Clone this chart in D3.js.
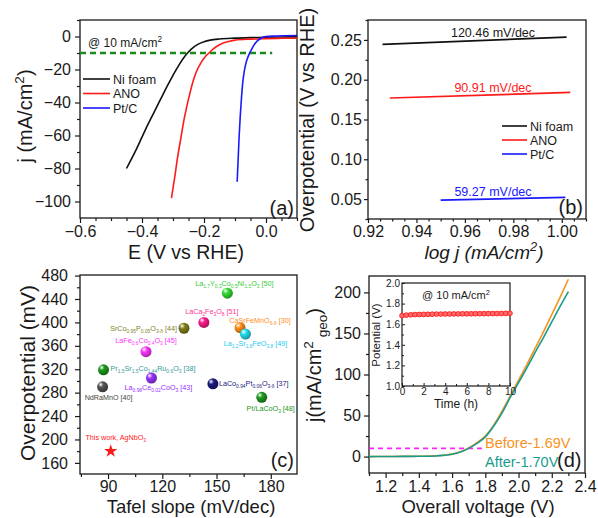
<!DOCTYPE html>
<html><head><meta charset="utf-8">
<script src="https://cdn.jsdelivr.net/npm/d3@7"></script>
<style>body{margin:0;background:#fff}svg{display:block}</style>
</head><body>
<svg id="c" width="598" height="518"></svg>
<script>
// ---------- DATA ----------
// (a) polarization curves
const niE  = [-0.45,-0.42,-0.40,-0.38,-0.36,-0.34,-0.32,-0.30,-0.28,-0.26,-0.24,-0.22,-0.20,-0.18,-0.15,-0.10,-0.05,0.00,0.05,0.10];
const niJ  = [-80,-69,-61,-53,-45.5,-38,-30.5,-23.5,-17,-11.5,-7.5,-4.8,-3.2,-2.2,-1.5,-1.0,-0.7,-0.5,-0.3,-0.2];
const anoE = [-0.305,-0.295,-0.285,-0.275,-0.265,-0.255,-0.245,-0.235,-0.225,-0.21,-0.195,-0.184,-0.17,-0.15,-0.12,-0.10,-0.05,0,0.05,0.10];
const anoJ = [-98,-86,-73,-62,-51,-42,-34,-27,-21.5,-16,-12,-10,-7.5,-5,-3,-2.2,-1.6,-1.3,-1.1,-1.0];
const ptE  = [-0.093,-0.09,-0.087,-0.083,-0.079,-0.075,-0.07,-0.063,-0.055,-0.047,-0.04,-0.03,-0.02,-0.01,0,0.03,0.06,0.1];
const ptJ  = [-88,-75,-62,-48,-37,-28,-21,-15,-11,-8,-5.5,-3,-1.5,-0.5,0,0.3,0.5,0.6];
const seriesNames = ["Ni foam","ANO","Pt/C"];
const refJ = -10;
const refELimit = [-0.6, 0.02];
// (b) Tafel lines
const tafelLogJ = [[0.926,1.002],[0.929,1.0035],[0.950,1.0015]];
const tafelEta  = [[0.2445,0.2534],[0.177,0.184],[0.0488,0.0521]];
const tafelText = ["120.46 mV/dec","90.91 mV/dec","59.27 mV/dec"];
// (c) comparison scatter
const catNames = [
 "La_{1.7}Y_{0.3}Co_{0.5}Ni_{1.5}O_{3} [50]",
 "LaCa_{2}Fe_{3}O_{8} [51]",
 "SrCo_{0.95}P_{0.05}O_{3-δ} [44]",
 "CaSrFeMnO_{6-δ} [30]",
 "La_{1.2}Sr_{1.8}FeO_{3.8} [49]",
 "LaFe_{0.6}Co_{0.4}O_{3} [45]",
 "Pr_{1.5}Sr_{1.5}Co_{1.44}Ru_{0.6}O_{3} [38]",
 "NdRaMnO [40]",
 "La_{0.98}Ce_{0.02}CoO_{3} [43]",
 "LaCo_{0.94}Pt_{0.06}O_{3-δ} [37]",
 "Pt/LaCoO_{3} [48]"
];
const catTafel = [156,143,132,163,166,111,87.5,87,114,148,175];
const catEta   = [450,400,390,391,380,350,319,290,305,295,272];
const thisWorkName = "This work, AgNbO_{3}";
const thisWorkTafel = 91.5, thisWorkEta = 180;
// (d) overall water splitting
const dV      = [1.1,1.2,1.3,1.4,1.5,1.55,1.6,1.65,1.7,1.75,1.8,1.85,1.9,1.95,2.0,2.05,2.1,2.15,2.2,2.25,2.3];
const beforeJ = [0,0.1,0.2,0.4,0.9,1.6,3,5.8,10.5,17,25,38,55,74,93,112,132,152,173,194,216];
const afterJ  = [0,0.1,0.2,0.4,0.8,1.5,2.8,5.5,10,16,24,37,53,72,90,108,127,145,164,183,201];
const dLabels = ["Before-1.69V","After-1.70V"];
const dRefJ = 10, dRefVLimit = [1.1, 1.78];
// inset stability
const stabT = [0,0.4,0.8,1.2,1.6,2.0,2.4,2.8,3.2,3.6,4.0,4.4,4.8,5.2,5.6,6.0,6.4,6.8,7.2,7.6,8.0,8.4,8.8,9.2,9.6,10.0];
const stabV = [1.683,1.688,1.691,1.693,1.694,1.695,1.696,1.697,1.698,1.698,1.699,1.699,1.700,1.700,1.701,1.701,1.701,1.702,1.702,1.702,1.703,1.703,1.703,1.704,1.705,1.706];

// ---------- STYLE ----------
const FONT = '"Liberation Sans", Arial, Helvetica, sans-serif';
const ink = '#1a1a1a';
const aColors = ['#111111','#ff1a1a','#1a1aff'];
const catColors = ['#33dd33','#ff1a8c','#7f7f1a','#ff8c1a','#22ddee','#ff33ff','#1a9a1a','#555555','#9933ff','#1a1a80','#229922'];
const catLabelColors = ['#33cc33','#ff3399','#7f7f2a','#ff8c1a','#22ccee','#ff33ff','#339999','#444444','#9933ff','#1a1a80','#229922'];
// label offsets relative to marker (px): dx, dy, anchor
const catLabelPos = [[7,-7,'middle'],[8,-8,'middle'],[-7,3,'end'],[20,-5,'middle'],[10,12,'middle'],[0,-9,'middle'],[7,1,'start'],[6,13,'middle'],[7,12,'middle'],[6,2,'start'],[9,14,'middle']];

const svg = d3.select('#c').attr('font-family', FONT);

function rich(sel, str, fs){
  const re = /([_^])\{([^}]*)\}|([^_^]+)/g;
  let cur = 0, m;
  while((m = re.exec(str))){
    let target = 0, size = fs, txt;
    if(m[3] !== undefined){ txt = m[3]; }
    else { txt = m[2]; size = fs*0.68; target = m[1] === '_' ? fs*0.28 : -fs*0.4; }
    sel.append('tspan').attr('font-size', size).attr('dy', target-cur).text(txt);
    cur = target;
  }
  return sel;
}

function drawAxes(g, x, y, o){
  const [x0,x1] = x.range(), [y0,y1] = y.range();
  const tk = o.tk ?? 5, tkm = o.tkm ?? 3;
  g.append('g').attr('transform',`translate(0,${y0})`)
    .call(d3.axisBottom(x).tickValues(o.xMaj).tickFormat(o.xFmt).tickSize(tk).tickSizeOuter(0).tickPadding(o.xPad ?? 3));
  g.append('g').attr('transform',`translate(0,${y0})`)
    .call(d3.axisBottom(x).tickValues(o.xMin).tickFormat(()=>'').tickSize(tkm).tickSizeOuter(0));
  g.append('g').attr('transform',`translate(${x0},0)`)
    .call(d3.axisLeft(y).tickValues(o.yMaj).tickFormat(o.yFmt).tickSize(tk).tickSizeOuter(0).tickPadding(o.yPad ?? 4));
  g.append('g').attr('transform',`translate(${x0},0)`)
    .call(d3.axisLeft(y).tickValues(o.yMin).tickFormat(()=>'').tickSize(tkm).tickSizeOuter(0));
  g.selectAll('.domain').remove();
  g.selectAll('.tick line').attr('stroke', ink).attr('stroke-width', o.tw ?? 1.2);
  g.selectAll('g').attr('font-family', FONT);
  g.selectAll('.tick text').attr('font-size', o.fs ?? 16).attr('fill', ink);
  g.append('rect').attr('x',x0).attr('y',y1).attr('width',x1-x0).attr('height',y0-y1)
    .attr('fill','none').attr('stroke',ink).attr('stroke-width', o.fw ?? 1.3);
}

// ---------- PANEL (a) ----------
{
  const g = svg.append('g');
  const x = d3.scaleLinear([-0.6,0.1],[80,297]);
  const y = d3.scaleLinear([-110,10],[218,20]);
  drawAxes(g, x, y, {
    xMaj:[-0.6,-0.4,-0.2,0.0], xMin:[-0.55,-0.5,-0.45,-0.35,-0.3,-0.25,-0.15,-0.1,-0.05,0.05,0.1], xFmt:d3.format('.1f'),
    yMaj:[-100,-80,-60,-40,-20,0], yMin:[-90,-70,-50,-30,-10,10], yFmt:d3.format('d'), yPad:4
  });
  g.append('line').attr('x1',x(refELimit[0])).attr('x2',x(refELimit[1])).attr('y1',y(refJ)).attr('y2',y(refJ))
    .attr('stroke','#1a8a1a').attr('stroke-width',2.5).attr('stroke-dasharray','6,4');
  const line = d3.line().x(d=>x(d[0])).y(d=>y(d[1])).curve(d3.curveMonotoneX);
  [[niE,niJ],[anoE,anoJ],[ptE,ptJ]].forEach((s,i)=>{
    g.append('path').attr('d', line(d3.zip(s[0],s[1]))).attr('fill','none').attr('stroke',aColors[i]).attr('stroke-width',1.6);
  });
  seriesNames.forEach((n,i)=>{
    const yy = 79 + i*14.5;
    g.append('line').attr('x1',83).attr('x2',110).attr('y1',yy).attr('y2',yy).attr('stroke',aColors[i]).attr('stroke-width',1.6);
    g.append('text').attr('x',113).attr('y',yy+4.5).attr('font-size',12.5).attr('fill',ink).text(n);
  });
  rich(g.append('text').attr('x',88).attr('y',47).attr('font-size',12).attr('fill',ink), '@ 10 mA/cm^{2}', 12);
  g.append('text').attr('x',294).attr('y',215).attr('text-anchor','end').attr('font-size',20).attr('fill',ink).text('(a)');
  g.append('text').attr('x',186).attr('y',259).attr('text-anchor','middle').attr('font-size',19.5).attr('fill',ink).text('E (V vs RHE)');
  rich(g.append('text').attr('transform','translate(32,116) rotate(-90)').attr('text-anchor','middle').attr('font-size',20).attr('fill',ink), 'j (mA/cm^{2})', 20);
}

// ---------- PANEL (b) ----------
{
  const g = svg.append('g');
  const x = d3.scaleLinear([0.92,1.01],[368,586]);
  const y = d3.scaleLinear([0.025,0.275],[219,20]);
  drawAxes(g, x, y, {
    xMaj:[0.92,0.94,0.96,0.98,1.00], xMin:[0.925,0.93,0.935,0.945,0.95,0.955,0.965,0.97,0.975,0.985,0.99,0.995,1.005,1.01], xFmt:d3.format('.2f'),
    yMaj:[0.05,0.10,0.15,0.20,0.25], yMin:[0.025,0.075,0.125,0.175,0.225,0.275], yFmt:d3.format('.2f'), tk:4, tkm:2.5, yPad:2
  });
  const line = d3.line().x(d=>x(d[0])).y(d=>y(d[1]));
  tafelLogJ.forEach((xs,i)=>{
    g.append('path').attr('d', line(d3.zip(xs, tafelEta[i]))).attr('fill','none').attr('stroke',aColors[i]).attr('stroke-width',1.7);
  });
  const labY = [37, 92, 196];
  tafelText.forEach((t,i)=>{
    g.append('text').attr('x',493).attr('y',labY[i]).attr('text-anchor','middle').attr('font-size',12.5).attr('fill',aColors[i]==='#111111'?ink:aColors[i]).text(t);
  });
  seriesNames.forEach((n,i)=>{
    const yy = 126 + i*14;
    g.append('line').attr('x1',502).attr('x2',527).attr('y1',yy).attr('y2',yy).attr('stroke',aColors[i]).attr('stroke-width',1.6);
    g.append('text').attr('x',530).attr('y',yy+4.5).attr('font-size',12.5).attr('fill',ink).text(n);
  });
  g.append('text').attr('x',583).attr('y',214).attr('text-anchor','end').attr('font-size',20).attr('fill',ink).text('(b)');
  rich(g.append('text').attr('x',484).attr('y',259).attr('text-anchor','middle').attr('font-size',19).attr('font-style','italic').attr('fill',ink), 'log j (mA/cm^{2})', 19);
  g.append('text').attr('transform','translate(314,120) rotate(-90)').attr('text-anchor','middle').attr('font-size',20).attr('fill',ink).text('Overpotential (V vs RHE)');
}

// ---------- PANEL (c) ----------
{
  const g = svg.append('g');
  const x = d3.scaleLinear([74.5,194.5],[80,297]);
  const y = d3.scaleLinear([141,481],[474,275]);
  drawAxes(g, x, y, {
    xMaj:[90,120,150,180], xMin:[75,105,135,165], xFmt:d3.format('d'),
    yMaj:[160,200,240,280,320,360,400,440,480], yMin:[180,220,260,300,340,380,420,460], yFmt:d3.format('d'), xPad:2, yPad:7
  });
  const defs = svg.append('defs');
  catColors.forEach((c,i)=>{
    const gr = defs.append('radialGradient').attr('id','sph'+i).attr('cx','38%').attr('cy','35%').attr('r','70%').attr('fx','32%').attr('fy','28%');
    gr.append('stop').attr('offset','0%').attr('stop-color','#ffffff');
    gr.append('stop').attr('offset','35%').attr('stop-color',c);
    gr.append('stop').attr('offset','100%').attr('stop-color',d3.color(c).darker(1.3));
  });
  catNames.forEach((n,i)=>{
    const px = x(catTafel[i]), py = y(catEta[i]);
    g.append('circle').attr('cx',px).attr('cy',py).attr('r',5.5).attr('fill',`url(#sph${i})`);
    const p = catLabelPos[i];
    rich(g.append('text').attr('x',px+p[0]).attr('y',py+p[1]).attr('text-anchor',p[2]).attr('font-size',7.2).attr('fill',catLabelColors[i]), n, 7.2);
  });
  g.append('path').attr('d', d3.symbol(d3.symbolStar, 55)()).attr('transform',`translate(${x(thisWorkTafel)},${y(thisWorkEta)})`).attr('fill','#ff1a1a');
  rich(g.append('text').attr('x',x(thisWorkTafel)+5).attr('y',y(thisWorkEta)-11).attr('text-anchor','middle').attr('font-size',7.2).attr('fill','#ff1a1a'), thisWorkName, 7.2);
  g.append('text').attr('x',294).attr('y',467).attr('text-anchor','end').attr('font-size',20).attr('fill',ink).text('(c)');
  g.append('text').attr('x',191).attr('y',513).attr('text-anchor','middle').attr('font-size',18.5).attr('fill',ink).text('Tafel slope (mV/dec)');
  g.append('text').attr('transform','translate(35,373) rotate(-90)').attr('text-anchor','middle').attr('font-size',21).attr('fill',ink).text('Overpotential (mV)');
}

// ---------- PANEL (d) ----------
{
  const g = svg.append('g');
  const x = d3.scaleLinear([1.1,2.4],[369,585]);
  const y = d3.scaleLinear([-20,220],[473,276]);
  drawAxes(g, x, y, {
    xMaj:[1.2,1.4,1.6,1.8,2.0,2.2,2.4], xMin:[1.1,1.3,1.5,1.7,1.9,2.1,2.3], xFmt:d3.format('.1f'),
    yMaj:[0,50,100,150,200], yMin:[25,75,125,175], yFmt:d3.format('d'), xPad:3, yPad:3, tk:5
  });
  g.append('line').attr('x1',x(dRefVLimit[0])).attr('x2',x(dRefVLimit[1])).attr('y1',y(dRefJ)).attr('y2',y(dRefJ))
    .attr('stroke','#ff22ff').attr('stroke-width',1.6).attr('stroke-dasharray','5,4');
  const line = d3.line().x(d=>x(d[0])).y(d=>y(d[1])).curve(d3.curveMonotoneX);
  const dCols = ['#f7931e','#179c8c'];
  g.append('path').attr('d', line(d3.zip(dV,beforeJ))).attr('fill','none').attr('stroke',dCols[0]).attr('stroke-width',1.6);
  g.append('path').attr('d', line(d3.zip(dV,afterJ))).attr('fill','none').attr('stroke',dCols[1]).attr('stroke-width',1.6);
  g.append('text').attr('x',485).attr('y',448).attr('font-size',14.5).attr('fill',dCols[0]).text(dLabels[0]);
  g.append('text').attr('x',485).attr('y',467).attr('font-size',14.5).attr('fill',dCols[1]).text(dLabels[1]);
  g.append('text').attr('x',557).attr('y',467).attr('font-size',20).attr('fill',ink).text('(d)');
  g.append('text').attr('x',478).attr('y',513).attr('text-anchor','middle').attr('font-size',18.5).attr('fill',ink).text('Overall voltage (V)');
  rich(g.append('text').attr('transform','translate(321,365) rotate(-90)').attr('text-anchor','middle').attr('font-size',20).attr('fill',ink), 'j(mA/cm^{2}_{ geo})', 20);

  // inset
  const gi = g.append('g');
  const ix = d3.scaleLinear([0,10],[402,510]);
  const iy = d3.scaleLinear([1.0,2.0],[386,283]);
  gi.append('rect').attr('x',402).attr('y',283).attr('width',108).attr('height',103).attr('fill','#fff');
  drawAxes(gi, ix, iy, {
    xMaj:[0,2,4,6,8,10], xMin:[1,3,5,7,9], xFmt:d3.format('d'),
    yMaj:[1.0,1.2,1.4,1.6,1.8,2.0], yMin:[1.1,1.3,1.5,1.7,1.9], yFmt:d3.format('.1f'),
    tk:-3, tkm:-2, xPad:2, yPad:2, fs:10, tw:1, fw:1.2
  });
  const sl = d3.line().x(d=>ix(d[0])).y(d=>iy(d[1]));
  gi.append('path').attr('d', sl(d3.zip(stabT,stabV))).attr('fill','none').attr('stroke','#ff3030').attr('stroke-width',4);
  gi.selectAll('circle.s').data(d3.zip(stabT,stabV)).join('circle').attr('class','s')
    .attr('cx',d=>ix(d[0])).attr('cy',d=>iy(d[1])).attr('r',2.4).attr('fill','#ff6a6a').attr('stroke','#ff1a1a').attr('stroke-width',0.8);
  rich(gi.append('text').attr('x',456).attr('y',299).attr('text-anchor','middle').attr('font-size',11).attr('fill',ink), '@ 10 mA/cm^{2}', 11);
  gi.append('text').attr('x',456).attr('y',408).attr('text-anchor','middle').attr('font-size',12).attr('fill',ink).text('Time (h)');
  gi.append('text').attr('transform','translate(380,335) rotate(-90)').attr('text-anchor','middle').attr('font-size',11.5).attr('fill',ink).text('Potential (V)');
}
</script>
</body></html>
